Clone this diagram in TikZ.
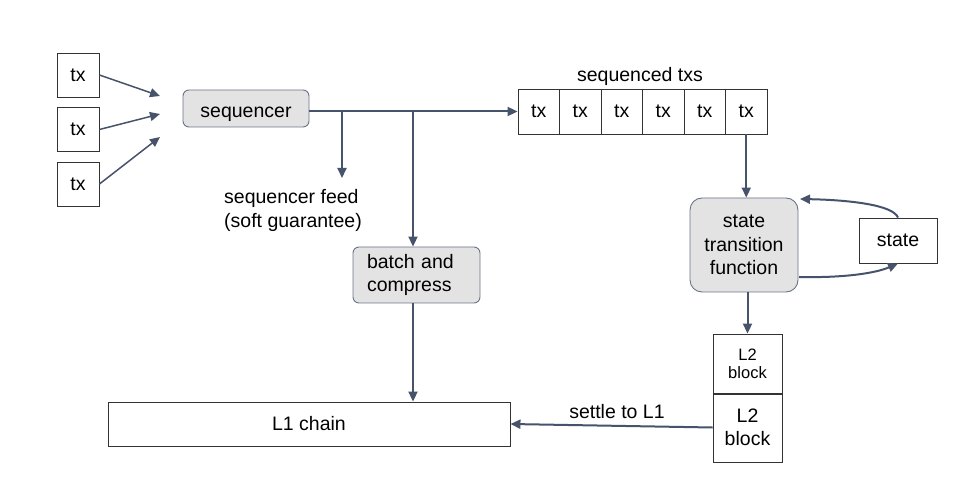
\documentclass[tikz,border=0pt]{standalone}
\usepackage{fontspec}
\setmainfont{Liberation Sans}
\usetikzlibrary{arrows.meta}
\definecolor{arr}{HTML}{47536A}
\definecolor{bfill}{HTML}{E3E3E3}
\definecolor{bdraw}{HTML}{6B7486}
\definecolor{pbox}{HTML}{333333}
\begin{document}
\begin{tikzpicture}[x=1pt,y=-1pt,
  every node/.style={font=\fontsize{19.5}{23.5}\selectfont, inner sep=0pt},
  plain/.style={draw=pbox, line width=0.9pt, minimum width=#1, rectangle},
  plain/.default=42pt,
  rbox/.style={draw=bdraw, fill=bfill, line width=0.9pt, rounded corners=6pt},
  con/.style={draw=arr, line width=2pt, -{Triangle[length=10pt,width=9pt]}},
  line/.style={draw=arr, line width=2pt}
]
\useasboundingbox (0,0) rectangle (972,478);
% input txs
\node[plain, minimum height=44pt] (tx1) at (78,75) {tx};
\node[plain, minimum height=44pt] (tx2) at (78,129.5) {tx};
\node[plain, minimum height=44pt] (tx3) at (78,184) {tx};
\coordinate (a1) at (160,96);
\coordinate (a2) at (160,114);
\coordinate (a3) at (160,137);
\draw[con, line width=1.5pt] (tx1.east) -- (a1);
\draw[con, line width=1.5pt] (tx2.east) -- (a2);
\draw[con, line width=1.5pt] (tx3.east) -- (a3);
% sequencer
\node[rbox, minimum width=126pt, minimum height=37pt, text height=18pt, text depth=0pt] (seq) at (246,108.5) {sequencer};
% sequenced txs
\node[plain=41.5pt, minimum height=45pt] (t1) at (538.75,111.5) {tx};
\node[plain=41.5pt, minimum height=45pt] (t2) at (580.25,111.5) {tx};
\node[plain=41.5pt, minimum height=45pt] (t3) at (621.75,111.5) {tx};
\node[plain=41.5pt, minimum height=45pt] (t4) at (663.25,111.5) {tx};
\node[plain=41.5pt, minimum height=45pt] (t5) at (704.75,111.5) {tx};
\node[plain=41.5pt, minimum height=45pt] (t6) at (746.25,111.5) {tx};
\node (stxl) at (640,76.5) {sequenced txs};
\draw[con] (seq.east |- t1.west) -- (t1.west);
% branches
\coordinate (b1) at (342,111.5);
\coordinate (f1) at (342,178);
\coordinate (b2) at (413,111.5);
\draw[con] (b1) -- (f1);
\node[align=left] (feed) at (293,210.5) {sequencer feed\\(soft guarantee)};
\node[rbox, minimum width=127pt, minimum height=56pt, align=left, text width=99pt, inner xsep=14pt] (batch) at (416.5,275) {batch and\\compress};
\draw[con] (b2) -- (b2 |- batch.north);
% L1 chain
\node[plain=402pt, minimum height=44pt] (l1) at (309,424) {L1 chain};
\draw[con] (b2 |- batch.south) -- (b2 |- l1.north);
% state transition
\node[rbox, rounded corners=12pt, minimum width=108pt, minimum height=94pt, align=center] (stf) at (744,245) {state\\transition\\function};
\draw[con] (t6.south) -- (t6.south |- stf.north);
\node[plain=78pt, minimum height=45pt] (state) at (898,240.5) {state};
\coordinate (s1) at (800,199);
\coordinate (s2) at (799,277);
\draw[con] (state.north) .. controls (893,205) and (850,200) .. (s1);
\draw[con] (s2) .. controls (845,278) and (876,273) .. (state.south);
% L2 blocks
\node[plain=69pt, minimum height=60pt, align=center, font=\fontsize{16.5}{18}\selectfont] (l2a) at (747.5,364) {L2\\block};
\node[plain=69pt, minimum height=69pt, align=center] (l2b) at (747.5,427.5) {L2\\block};
\draw[draw=pbox, line width=2pt] (l2a.south west) -- (l2a.south east);
\draw[con] (l2a.north |- stf.south) -- (l2a.north);
\draw[con] (l2b.west) -- (l1.east);
\node (settle) at (617,412) {settle to L1};
\end{tikzpicture}
\end{document}
